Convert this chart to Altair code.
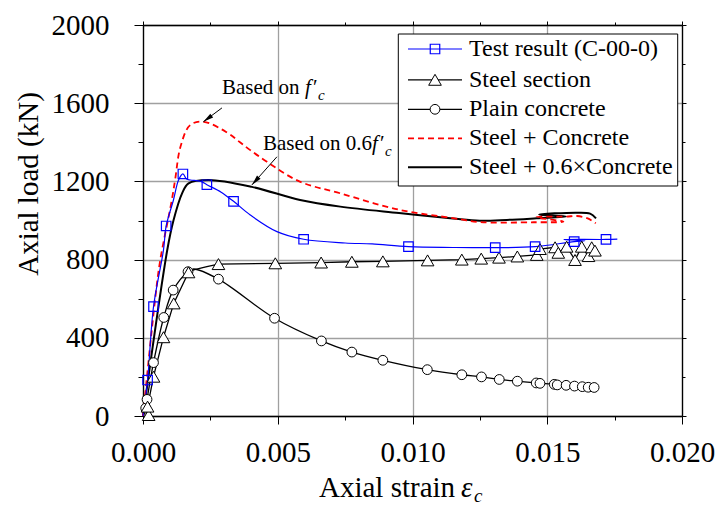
import math
import altair as alt
import pandas as pd

# ---------------- data ----------------
test_strain = [0, 0.00017, 0.00039, 0.00076, 0.00086, 0.00113, 0.00132, 0.00148, 0.00162, 0.00176,
               0.00215, 0.00237, 0.0029, 0.00336, 0.00398, 0.00497, 0.00596, 0.0075, 0.0085, 0.00985,
               0.0115, 0.01307, 0.01455, 0.0160, 0.0164, 0.0156, 0.01718, 0.0176]
test_load = [0, 184, 559, 849, 972, 1105, 1207, 1238, 1212, 1207,
             1200, 1183, 1145, 1098, 1028, 943, 904, 885, 880, 866,
             862, 861, 866, 892, 896, 903, 903, 905]
test_mark_strain = [0.00017, 0.00039, 0.00086, 0.00148, 0.00237, 0.00336, 0.00596, 0.00985,
                    0.01307, 0.01455, 0.0160, 0.01718]
test_mark_load = [184, 559, 972, 1238, 1183, 1098, 904, 866, 861, 866, 892, 903]

steel_strain = [0, 0.00017, 0.00039, 0.00076, 0.00114, 0.00169, 0.00188, 0.00237, 0.0028, 0.00491,
                0.00661, 0.00775, 0.0089, 0.01056, 0.01183, 0.01255, 0.01321, 0.01389, 0.01461,
                0.01473, 0.01529, 0.01541, 0.01572, 0.01603, 0.01628, 0.01653, 0.01665, 0.01677]
steel_load = [0, 48, 201, 403, 576, 735, 747, 764, 777, 781,
              785, 789, 791, 796, 800, 805, 810, 816, 824,
              854, 863, 835, 866, 798, 866, 818, 863, 846]
steel_mark_strain = [0.00021, 0.00017, 0.00039, 0.00076, 0.00114, 0.00169, 0.0028, 0.00491,
                     0.00661, 0.00775, 0.0089, 0.01056, 0.01183, 0.01255, 0.01321, 0.01389, 0.01461,
                     0.01473, 0.01529, 0.01541, 0.01572, 0.01603, 0.01628, 0.01653, 0.01665, 0.01677]
steel_mark_load = [5, 48, 201, 403, 576, 735, 777, 781,
                   785, 789, 791, 796, 800, 805, 810, 816, 824,
                   854, 863, 835, 866, 798, 866, 818, 863, 846]

conc_strain = [0, 0.0001, 0.00015, 0.00039, 0.00077, 0.00112, 0.00167, 0.00188, 0.0028, 0.00488,
               0.00662, 0.00775, 0.0089, 0.01055, 0.01183, 0.01256, 0.01322, 0.01389, 0.01459,
               0.01473, 0.01526, 0.01537, 0.0157, 0.01601, 0.0163, 0.01652, 0.01674]
conc_load = [0, 40, 85, 273, 504, 644, 738, 752, 700, 500,
             384, 327, 285, 237, 211, 200, 187, 178, 169,
             167, 162, 159, 157, 153, 150, 147, 146]
conc_mark_strain = [0.0001, 0.00015, 0.00039, 0.00077, 0.00112, 0.00167, 0.0028, 0.00488,
                    0.00662, 0.00775, 0.0089, 0.01055, 0.01183, 0.01256, 0.01322, 0.01389, 0.01459,
                    0.01473, 0.01526, 0.01537, 0.0157, 0.01601, 0.0163, 0.01652, 0.01674]
conc_mark_load = [40, 85, 273, 504, 644, 738, 700, 500,
                  384, 327, 285, 237, 211, 200, 187, 178, 169,
                  167, 162, 159, 157, 153, 150, 147, 146]

sc_strain = [0, 0.00046, 0.00064, 0.00107, 0.0012, 0.00139, 0.00175, 0.00225, 0.00312, 0.0036,
             0.00398, 0.0046, 0.0058, 0.00732, 0.0095, 0.0115, 0.0125, 0.0145, 0.0156, 0.0146,
             0.0157, 0.0161, 0.0165, 0.0168]
sc_load = [0, 610, 798, 1105, 1216, 1377, 1488, 1505, 1450, 1400,
           1360, 1300, 1200, 1139, 1055, 1012, 992, 991, 994, 1017,
           1020, 1023, 1011, 986]

s06_strain = [0, 0.0009, 0.00113, 0.00145, 0.00169, 0.00243, 0.00404, 0.00583, 0.00732, 0.0095,
              0.0115, 0.0125, 0.0135, 0.0146, 0.0157, 0.0147, 0.0161, 0.01659, 0.01681]
s06_load = [0, 849, 1000, 1139, 1190, 1207, 1172, 1105, 1071, 1038,
            1010, 999, 1003, 1011, 1020, 1030, 1040, 1035, 1011]

x_major = [0, 0.005, 0.010, 0.015, 0.020]
x_minor = [0.0025, 0.0075, 0.0125, 0.0175]
y_major = [0, 400, 800, 1200, 1600, 2000]
y_minor = [200, 600, 1000, 1400, 1800]

legend_names = ["Test result (C-00-0)", "Steel section", "Plain concrete",
                "Steel + Concrete", "Steel + 0.6×Concrete"]

ann_prefix = ["Based on ", "Based on 0.6"]
ann_strain = [0.00293, 0.00445]
ann_load = [1647, 1361]
arrow_from_strain = [0.00293, 0.00497]
arrow_from_load = [1576, 1326]
arrow_to_strain = [0.00224, 0.00404]
arrow_to_load = [1505, 1182]

# ---------------- layout / style ----------------
W, H = 539, 391
XMAX, YMAX = 0.02, 2000
FONT = "Liberation Serif"
GRID = "#a0a0a0"

xs = alt.Scale(domain=[0, XMAX], nice=False, zero=False)
ys = alt.Scale(domain=[0, YMAX], nice=False, zero=False)


def ex(field="strain", axis=None):
    return alt.X(f"{field}:Q", scale=xs, axis=axis)


def ey(field="load", axis=None):
    return alt.Y(f"{field}:Q", scale=ys, axis=axis)


def frame(sx, sy):
    return pd.DataFrame({"strain": sx, "load": sy, "seq": list(range(len(sx)))})


one = pd.DataFrame({"k": [0]})
layers = []

# ---- axes ----
common = dict(title=None, tickColor="black", domainColor="black", labelColor="black",
              labelFont=FONT, labelFontSize=29, tickWidth=1, domainWidth=1.3)
axdf = frame(test_strain, test_load)
layers.append(alt.Chart(axdf).mark_point(opacity=0).encode(
    x=ex(axis=alt.Axis(orient="bottom", values=x_major, format=".3f", grid=True, gridColor=GRID,
                       gridWidth=1.3, tickSize=8, labelPadding=14, labelFlush=False,
                       labelOverlap=False, **common)),
    y=ey(axis=alt.Axis(orient="left", values=y_major, format="d", grid=True, gridColor=GRID,
                       gridWidth=1.3, tickSize=9, labelPadding=25, labelOverlap=False, **common)),
))
layers.append(alt.Chart(axdf).mark_point(opacity=0).encode(
    x=ex(axis=alt.Axis(orient="bottom", values=x_minor, labels=False, grid=False, domain=False,
                       tickSize=4, **common)),
    y=ey(axis=alt.Axis(orient="left", values=y_minor, labels=False, grid=False, domain=False,
                       tickSize=5, **common)),
))
layers.append(alt.Chart(axdf).mark_point(opacity=0).encode(
    x=ex(axis=alt.Axis(orient="top", values=x_major, labels=False, grid=False, tickSize=4, **common)),
    y=ey(axis=alt.Axis(orient="right", values=y_major, labels=False, grid=False, tickSize=4, **common)),
))
layers.append(alt.Chart(axdf).mark_point(opacity=0).encode(
    x=ex(axis=alt.Axis(orient="top", values=x_minor, labels=False, grid=False, domain=False,
                       tickSize=3, **common)),
    y=ey(axis=alt.Axis(orient="right", values=y_minor, labels=False, grid=False, domain=False,
                       tickSize=3, **common)),
))


# ---- curves ----
def line(df, color, width, dash=None, interp="catmull-rom"):
    kw = dict(color=color, strokeWidth=width, interpolate=interp)
    if dash:
        kw["strokeDash"] = dash
    return alt.Chart(df).mark_line(**kw).encode(x=ex(), y=ey(), order="seq:Q")


layers.append(line(frame(conc_strain, conc_load), "black", 1.3))
layers.append(line(frame(steel_strain, steel_load), "black", 1.3, interp="linear"))
layers.append(line(frame(s06_strain, s06_load), "black", 2.0))
layers.append(line(frame(sc_strain, sc_load), "#ff0000", 1.8, dash=[6, 4]))
layers.append(line(frame(test_strain, test_load), "#0000ff", 1.2))

layers.append(alt.Chart(frame(conc_mark_strain, conc_mark_load)).mark_point(
    shape="circle", size=95, filled=True, fill="white", stroke="black", strokeWidth=1,
    opacity=1).encode(x=ex(), y=ey()))
layers.append(alt.Chart(frame(steel_mark_strain, steel_mark_load)).mark_point(
    shape="triangle-up", size=160, filled=True, fill="white", stroke="black", strokeWidth=1,
    opacity=1).encode(x=ex(), y=ey()))
layers.append(alt.Chart(frame(test_mark_strain, test_mark_load)).mark_point(
    shape="square", size=90, filled=False, stroke="#0000ff", strokeWidth=1.2,
    opacity=1).encode(x=ex(), y=ey()))

# ---- annotations ----
px_per_strain = W / XMAX
px_per_load = H / YMAX
angles = []
for i in range(2):
    dx = (arrow_to_strain[i] - arrow_from_strain[i]) * px_per_strain
    dy = -(arrow_to_load[i] - arrow_from_load[i]) * px_per_load
    angles.append(math.degrees(math.atan2(dx, -dy)) % 360)
arrows = pd.DataFrame({"s0": arrow_from_strain, "l0": arrow_from_load,
                       "s1": arrow_to_strain, "l1": arrow_to_load, "ang": angles})
layers.append(alt.Chart(arrows).mark_rule(color="black", strokeWidth=1).encode(
    x=ex("s0"), y=ey("l0"), x2="s1:Q", y2="l1:Q"))
layers.append(alt.Chart(arrows).mark_point(
    shape="M0,0L-0.5,2.2L0.5,2.2Z", size=90, filled=True, color="black", opacity=1).encode(
    x=ex("s1"), y=ey("l1"), angle=alt.Angle("ang:Q", scale=None)))

ANN_FS = 21
ann_f_dx = [83, 109]
for i in range(2):
    d = pd.DataFrame({"strain": [ann_strain[i]], "load": [ann_load[i]], "t": [ann_prefix[i]]})
    layers.append(alt.Chart(d).mark_text(align="left", baseline="alphabetic", font=FONT,
                                         fontSize=ANN_FS, color="black").encode(
        x=ex(), y=ey(), text="t:N"))
    layers.append(alt.Chart(d).mark_text(text="f", align="left", baseline="alphabetic", font=FONT,
                                         fontStyle="italic", fontSize=ANN_FS, color="black",
                                         dx=ann_f_dx[i]).encode(x=ex(), y=ey()))
    layers.append(alt.Chart(d).mark_text(text="′", align="left", baseline="alphabetic", font=FONT,
                                         fontSize=ANN_FS, color="black",
                                         dx=ann_f_dx[i] + 8).encode(x=ex(), y=ey()))
    layers.append(alt.Chart(d).mark_text(text="c", align="left", baseline="alphabetic", font=FONT,
                                         fontStyle="italic", fontSize=15, color="black",
                                         dx=ann_f_dx[i] + 13, dy=6).encode(x=ex(), y=ey()))

# ---- axis titles ----
layers.append(alt.Chart(one).mark_text(text="Axial load (kN)", angle=270, align="center",
                                       baseline="alphabetic", font=FONT, fontSize=29,
                                       color="black").encode(
    x=alt.value(-105), y=alt.value(159)))
layers.append(alt.Chart(one).mark_text(text="Axial strain", align="left", baseline="alphabetic",
                                       font=FONT, fontSize=29, color="black").encode(
    x=alt.value(176), y=alt.value(472)))
layers.append(alt.Chart(one).mark_text(text="ε", align="left", baseline="alphabetic",
                                       font=FONT, fontSize=29, fontStyle="italic",
                                       color="black").encode(
    x=alt.value(318), y=alt.value(472)))
layers.append(alt.Chart(one).mark_text(text="c", align="left", baseline="alphabetic",
                                       font=FONT, fontSize=19, fontStyle="italic",
                                       color="black").encode(
    x=alt.value(331), y=alt.value(477)))

# ---- legend ----
LX0, LX1, LY0, LY1 = 255.3, 534.7, 9, 161
row_y = [24, 54.8, 84.3, 113.3, 142.3]
SYM_X0, SYM_X1, SYM_XC, TXT_X = 265, 319, 292, 326
layers.append(alt.Chart(one).mark_rect(fill="white", stroke="black", strokeWidth=1).encode(
    x=alt.value(LX0), x2=alt.value(LX1), y=alt.value(LY0), y2=alt.value(LY1)))
styles = [("#0000ff", 1.2, None), ("black", 1.3, None), ("black", 1.3, None),
          ("#ff0000", 1.8, [6, 4]), ("black", 2.0, None)]
for i, name in enumerate(legend_names):
    col, w, dash = styles[i]
    kw = dict(color=col, strokeWidth=w)
    if dash:
        kw["strokeDash"] = dash
    layers.append(alt.Chart(one).mark_rule(**kw).encode(
        x=alt.value(SYM_X0), x2=alt.value(SYM_X1), y=alt.value(row_y[i])))
    layers.append(alt.Chart(pd.DataFrame({"t": [name]})).mark_text(
        align="left", baseline="middle", font=FONT, fontSize=24, color="black").encode(
        x=alt.value(TXT_X), y=alt.value(row_y[i]), text="t:N"))
layers.append(alt.Chart(one).mark_point(shape="square", size=90, filled=False, stroke="#0000ff",
                                        strokeWidth=1.2, opacity=1).encode(
    x=alt.value(SYM_XC), y=alt.value(row_y[0])))
layers.append(alt.Chart(one).mark_point(shape="triangle-up", size=160, filled=True, fill="white",
                                        stroke="black", strokeWidth=1, opacity=1).encode(
    x=alt.value(SYM_XC), y=alt.value(row_y[1])))
layers.append(alt.Chart(one).mark_point(shape="circle", size=95, filled=True, fill="white",
                                        stroke="black", strokeWidth=1, opacity=1).encode(
    x=alt.value(SYM_XC), y=alt.value(row_y[2])))

chart = alt.layer(*layers).resolve_scale(x="independent", y="independent").properties(
    width=W, height=H,
    padding={"left": 143, "top": 25, "right": 35, "bottom": 92},
    autosize=alt.AutoSizeParams(type="none"),
    background="white",
).configure_view(stroke=None)

chart.save("out.html", embed_options={"renderer": "svg", "actions": False})
